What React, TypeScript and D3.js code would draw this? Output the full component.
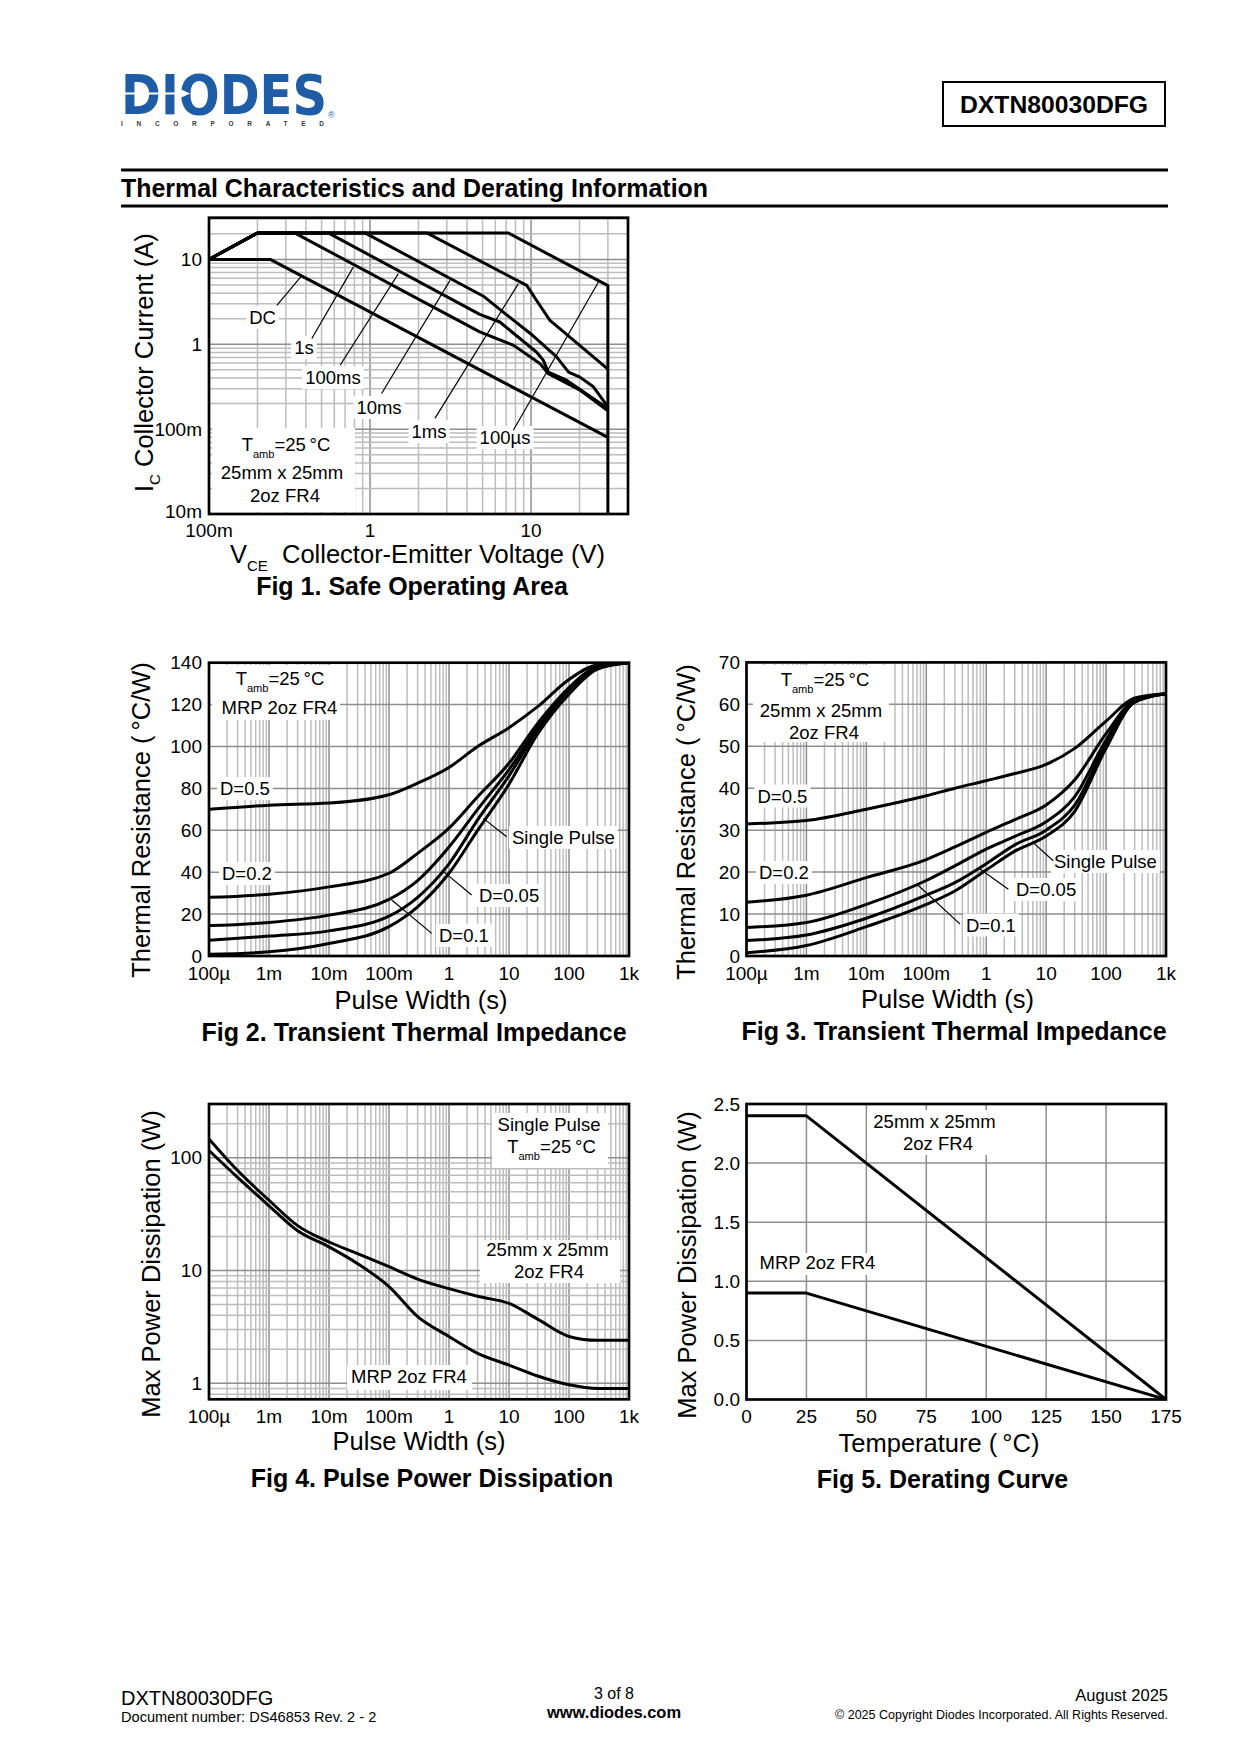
import React, { useEffect, useRef } from "react";
import * as d3 from "d3";

const FONT = "'Liberation Sans', Arial, Helvetica, sans-serif";
const BLUE = "#1f5ca6";

// Fig 1 - Safe Operating Area, points are [VCE (V), IC (A)]
const soaDC = [[0.1, 10], [0.24, 10], [30, 0.08]];
const soa1s = [[0.1, 10], [0.2, 20.5], [0.34, 20.5], [4.8, 1.4], [7.8, 0.97], [11.4, 0.59], [12.8, 0.45], [20, 0.29], [30, 0.164]];
const soa100ms = [[0.1, 10], [0.2, 20.5], [0.55, 20.5], [4.8, 2.25], [6.4, 1.83], [10.8, 0.81], [11.9, 0.65], [12.8, 0.47], [16.6, 0.377], [30, 0.175]];
const soa10ms = [[0.1, 10], [0.2, 20.5], [0.93, 20.5], [5.1, 3.65], [6.9, 2.3], [9.9, 1.34], [14.4, 0.71], [17.1, 0.47], [20.1, 0.41], [24.4, 0.315], [30, 0.183]];
const soa1ms = [[0.1, 10], [0.2, 20.5], [2.25, 20.5], [9.4, 4.94], [10.8, 3.3], [13.1, 1.91], [30, 0.51]];
const soa100us = [[0.1, 10], [0.2, 20.5], [7.2, 20.5], [30, 4.9], [30, 0.01]];

// leader lines from the labels to the curves, [VCE, IC] pairs
const soaLeaders = [
  [[0.264, 2.88], [0.378, 6.49]],
  [[0.435, 1.17], [0.787, 8.1]],
  [[0.652, 0.566], [1.5, 6.8]],
  [[1.18, 0.263], [3.14, 5.66]],
  [[2.53, 0.134], [8.34, 5.18]],
  [[7.76, 0.097], [26.2, 5.41]],
];

// pulse width (s), shared by figs 2-3
const pulseWidths = [1e-4, 1e-3, 1e-2, 0.1, 0.3, 1, 3, 10, 30, 100, 300, 1000];

// Fig 2 - transient thermal impedance, MRP 2oz FR4 (°C/W)
const zthMrpD05 = [70, 72, 73, 77, 82.5, 90, 100, 109, 119, 132, 139, 140];
const zthMrpD02 = [28, 29.5, 33, 39.5, 49, 61, 76, 92, 111, 128, 138, 140];
const zthMrpD01 = [14.5, 16, 19.5, 27, 36, 52, 70, 89, 109, 128, 138, 140];
const zthMrpD005 = [7.5, 9.5, 12, 19, 28, 44, 65, 86, 108, 127, 137.5, 140];
const zthMrpSingle = [0.8, 2, 6, 14, 23.5, 39.5, 60, 82, 106, 125, 137, 140];
const zthMrpLeaders = [
  [[9.16, 56.9], [3.73, 65.7]],
  [[2.39, 29.1], [0.755, 41]],
  [[0.515, 10.8], [0.111, 26.7]],
];

// Fig 3 - transient thermal impedance, 25mm x 25mm 2oz FR4 (°C/W)
const zth25D05 = [31.5, 32.3, 35, 38.2, 40, 41.8, 43.5, 45.7, 49.5, 56, 61.5, 62.5];
const zth25D02 = [12.8, 14.5, 18.7, 23, 26, 29.5, 32.5, 36, 42, 53, 61, 62.5];
const zth25D01 = [6.8, 8, 12.3, 18, 21.5, 25.5, 28.5, 32, 38, 51.5, 61, 62.5];
const zth25D005 = [3.7, 5, 9, 14.5, 17.5, 22, 26.5, 30, 36, 50.5, 60.5, 62.5];
const zth25Single = [0.8, 2.5, 7, 12.3, 15.5, 20.5, 25, 28.6, 34.5, 49.5, 60.5, 62.5];
const zth25Leaders = [
  [[13.1, 22.7], [5.9, 27.2]],
  [[2.34, 15.9], [0.757, 20.9]],
  [[0.366, 7.6], [0.07, 17.1]],
];

// Fig 4 - pulse power dissipation (W)
const pdmWidths = [1e-4, 3e-4, 1e-3, 3e-3, 1e-2, 3e-2, 0.1, 0.3, 1, 3, 10, 30, 100, 300, 1000];
const pdm25 = [147, 77, 42, 25, 17.9, 14.1, 10.8, 8.4, 6.9, 5.9, 5.1, 3.7, 2.6, 2.4, 2.4];
const pdmMrp = [116, 67, 37.5, 22.5, 16.2, 11.5, 7.2, 3.9, 2.6, 1.84, 1.45, 1.16, 0.97, 0.9, 0.9];

// Fig 5 - derating curve
const derTemp = [0, 25, 175];
const der25 = [2.4, 2.4, 0];
const derMrp = [0.9, 0.9, 0];

// tick values and labels
const soaXTicks = [0.1, 1, 10];
const soaXLabels = ["100m", "1", "10"];
const soaYTicks = [0.01, 0.1, 1, 10];
const soaYLabels = ["10m", "100m", "1", "10"];
const pulseTicks = [1e-4, 1e-3, 1e-2, 0.1, 1, 10, 100, 1000];
const pulseLabels = ["100µ", "1m", "10m", "100m", "1", "10", "100", "1k"];
const zthMrpTicks = [0, 20, 40, 60, 80, 100, 120, 140];
const zth25Ticks = [0, 10, 20, 30, 40, 50, 60, 70];
const pdmTicks = [1, 10, 100];
const tempTicks = [0, 25, 50, 75, 100, 125, 150, 175];
const deratingTicks = [0, 0.5, 1, 1.5, 2, 2.5];

const GRID_MAJOR = "#8e8e8e";
const GRID_MINOR = "#bdbdbd";

function logGrid(lo: number, hi: number) {
  const out: { v: number; major: boolean }[] = [];
  for (let e = Math.floor(Math.log10(lo)); e <= Math.ceil(Math.log10(hi)); e++) {
    for (let m = 1; m < 10; m++) {
      const v = m * Math.pow(10, e);
      if (v > lo * 1.001 && v < hi * 0.999) out.push({ v, major: m === 1 });
    }
  }
  return out;
}

function linGrid(vals: number[]) {
  return vals.map((v) => ({ v, major: true }));
}

function addText(g: any, s: string, x: number, y: number, size: number, anchor = "middle", weight = "normal") {
  return g
    .append("text")
    .attr("x", x)
    .attr("y", y)
    .attr("font-size", size)
    .attr("text-anchor", anchor)
    .attr("font-weight", weight)
    .attr("font-family", FONT)
    .attr("fill", "#000")
    .text(s);
}

function addTamb(g: any, x: number, y: number, size: number) {
  const t = g
    .append("text")
    .attr("x", x)
    .attr("y", y)
    .attr("font-size", size)
    .attr("text-anchor", "middle")
    .attr("font-family", FONT);
  t.append("tspan").text("T");
  t.append("tspan").attr("font-size", size * 0.6).attr("dy", size * 0.4).text("amb");
  t.append("tspan").attr("dy", -size * 0.4).text("=25\u2009°C");
}

function drawPlot(svg: any, p: any) {
  const [x0, x1] = p.x.range();
  const [y1, y0] = p.y.range();
  const g = svg.append("g");
  g.append("clipPath").attr("id", p.id).append("rect").attr("x", x0).attr("y", y0).attr("width", x1 - x0).attr("height", y1 - y0);

  const grid = g.append("g");
  const boxes = g.append("g");
  const curves = g.append("g").attr("clip-path", `url(#${p.id})`);
  const top = g.append("g");

  p.xGrid.forEach((d: any) =>
    grid.append("line").attr("x1", p.x(d.v)).attr("x2", p.x(d.v)).attr("y1", y0).attr("y2", y1)
      .attr("stroke", d.major ? GRID_MAJOR : GRID_MINOR).attr("stroke-width", 1.5)
  );
  p.yGrid.forEach((d: any) =>
    grid.append("line").attr("x1", x0).attr("x2", x1).attr("y1", p.y(d.v)).attr("y2", p.y(d.v))
      .attr("stroke", d.major ? GRID_MAJOR : GRID_MINOR).attr("stroke-width", 1.5)
  );

  (p.boxes || []).forEach((b: number[]) =>
    boxes.append("rect").attr("x", b[0]).attr("y", b[1]).attr("width", b[2] - b[0]).attr("height", b[3] - b[1]).attr("fill", "#fff")
  );

  const line = d3.line<any>().x((d) => p.x(d[0])).y((d) => p.y(d[1])).curve(p.curve || d3.curveLinear);
  p.series.forEach((s: any) =>
    curves.append("path").attr("d", line(s)).attr("fill", "none").attr("stroke", "#000")
      .attr("stroke-width", 3).attr("stroke-linejoin", "round")
  );

  (p.leaders || []).forEach((l: any) =>
    top.append("line").attr("x1", p.x(l[0][0])).attr("y1", p.y(l[0][1])).attr("x2", p.x(l[1][0])).attr("y2", p.y(l[1][1]))
      .attr("stroke", "#000").attr("stroke-width", 1.2)
  );

  top.append("rect").attr("x", x0).attr("y", y0).attr("width", x1 - x0).attr("height", y1 - y0)
    .attr("fill", "none").attr("stroke", "#000").attr("stroke-width", 2.7);

  // labels with a white background that hides the grid
  (p.labels || []).forEach((l: any) => {
    const t = addText(top, l.s, l.x, l.y, 18.5, l.anchor || "start");
    const bb = (t.node() as SVGTextElement).getBBox();
    boxes.append("rect").attr("x", bb.x - 3).attr("y", bb.y - 1).attr("width", bb.width + 6).attr("height", bb.height + 2).attr("fill", "#fff");
  });

  // tick labels
  p.xTicks.forEach((v: number, i: number) => addText(top, p.xLabels[i], p.x(v), p.xBase, 19));
  p.yTicks.forEach((v: number, i: number) =>
    addText(top, p.yLabels[i], p.yRight, Math.min(p.y(v) + 6.5, y1 + (p.yBottomLift ?? 6.5)), 19, "end")
  );
  return top;
}

function pairs(xs: number[], ys: number[]) {
  return xs.map((x, i) => [x, ys[i]]);
}

const App: React.FC = () => {
  const ref = useRef<SVGSVGElement>(null);

  useEffect(() => {
    if (!ref.current) return;
    const svg = d3.select(ref.current);
    svg.selectAll("*").remove();
    svg.append("rect").attr("width", 1240).attr("height", 1754).attr("fill", "#fff");

    // ---------- header ----------
    svg.append("text").attr("x", 121).attr("y", 113.5).attr("font-family", "'DejaVu Sans', sans-serif")
      .attr("font-weight", "bold").attr("font-size", 56).attr("fill", BLUE)
      .attr("textLength", 206).attr("lengthAdjust", "spacingAndGlyphs").text("DIODES");
    svg.append("line").attr("x1", 121).attr("x2", 182).attr("y1", 93.5).attr("y2", 93.5).attr("stroke", "#fff").attr("stroke-width", 2);
    svg.append("path").attr("d", "M178,88 L190,93.5 L178,99 Z").attr("fill", "#fff");
    svg.append("text").attr("x", 121).attr("y", 125.5).attr("font-family", FONT).attr("font-weight", "bold")
      .attr("font-size", 6.5).attr("fill", "#3a3a3a").attr("textLength", 203).attr("lengthAdjust", "spacing").text("INCORPORATED");
    svg.append("text").attr("x", 328).attr("y", 118).attr("font-family", FONT).attr("font-size", 9).attr("fill", BLUE).text("®");

    svg.append("rect").attr("x", 943).attr("y", 82).attr("width", 222).attr("height", 44).attr("fill", "none").attr("stroke", "#000").attr("stroke-width", 2);
    addText(svg, "DXTN80030DFG", 1054, 112.5, 24, "middle", "bold").attr("textLength", 188).attr("lengthAdjust", "spacingAndGlyphs");

    svg.append("line").attr("x1", 121).attr("x2", 1168).attr("y1", 170).attr("y2", 170).attr("stroke", "#000").attr("stroke-width", 3);
    addText(svg, "Thermal Characteristics and Derating Information", 121, 197, 25, "start", "bold")
      .attr("textLength", 587).attr("lengthAdjust", "spacingAndGlyphs");
    svg.append("line").attr("x1", 121).attr("x2", 1168).attr("y1", 206).attr("y2", 206).attr("stroke", "#000").attr("stroke-width", 3);

    // ---------- Fig 1 ----------
    const x1s = d3.scaleLog().domain([0.1, 40]).range([209, 628]);
    const y1s = d3.scaleLog().domain([0.01, 31]).range([514, 217.7]);
    const t1 = drawPlot(svg, {
      id: "clip1", x: x1s, y: y1s,
      xGrid: logGrid(0.1, 40), yGrid: logGrid(0.01, 31),
      boxes: [[212, 428, 355, 512]],
      series: [soaDC, soa1s, soa100ms, soa10ms, soa1ms, soa100us],
      leaders: soaLeaders,
      labels: [
        { s: "DC", x: 262.5, y: 324, anchor: "middle" },
        { s: "1s", x: 304, y: 354, anchor: "middle" },
        { s: "100ms", x: 333, y: 384, anchor: "middle" },
        { s: "10ms", x: 379, y: 414, anchor: "middle" },
        { s: "1ms", x: 429, y: 438, anchor: "middle" },
        { s: "100µs", x: 505, y: 444, anchor: "middle" },
      ],
      xTicks: soaXTicks, xLabels: soaXLabels, xBase: 536.5,
      yTicks: soaYTicks, yLabels: soaYLabels, yRight: 202, yBottomLift: 4,
    });
    addTamb(t1, 286, 450.5, 18.5);
    addText(t1, "25mm x 25mm", 282, 479, 18.5);
    addText(t1, "2oz FR4", 285, 501.5, 18.5);

    const xt1 = svg.append("text").attr("x", 230).attr("y", 563).attr("font-family", FONT).attr("font-size", 25.5);
    xt1.append("tspan").text("V");
    xt1.append("tspan").attr("font-size", 15).attr("dy", 8).text("CE");
    xt1.append("tspan").attr("x", 282).attr("dy", -8).text("Collector-Emitter Voltage (V)");
    const yt1 = svg.append("text").attr("transform", "translate(153,492) rotate(-90)").attr("font-family", FONT).attr("font-size", 25.5);
    yt1.append("tspan").text("I");
    yt1.append("tspan").attr("font-size", 15).attr("dy", 7).text("C");
    yt1.append("tspan").attr("dy", -7).text(" Collector Current (A)");
    addText(svg, "Fig 1. Safe Operating Area", 412, 595, 25, "middle", "bold");

    // ---------- Fig 2 ----------
    const x2s = d3.scaleLog().domain([1e-4, 1e3]).range([209, 629]);
    const y2s = d3.scaleLinear().domain([0, 140]).range([956, 662.7]);
    const t2 = drawPlot(svg, {
      id: "clip2", x: x2s, y: y2s,
      xGrid: logGrid(1e-4, 1e3), yGrid: linGrid([20, 40, 60, 80, 100, 120]),
      boxes: [[212, 665, 340, 720]],
      series: [zthMrpD05, zthMrpD02, zthMrpD01, zthMrpD005, zthMrpSingle].map((s) => pairs(pulseWidths, s)),
      curve: d3.curveMonotoneX,
      leaders: zthMrpLeaders,
      labels: [
        { s: "D=0.5", x: 220, y: 795 },
        { s: "D=0.2", x: 222, y: 880 },
        { s: "Single Pulse", x: 512, y: 844 },
        { s: "D=0.05", x: 479, y: 902 },
        { s: "D=0.1", x: 439, y: 942 },
      ],
      xTicks: pulseTicks, xLabels: pulseLabels, xBase: 980,
      yTicks: zthMrpTicks, yLabels: zthMrpTicks.map(String), yRight: 202,
    });
    addTamb(t2, 280, 685, 18.5);
    addText(t2, "MRP 2oz FR4", 279.5, 714, 18.5);
    addText(svg, "Pulse Width (s)", 421, 1009, 25.5);
    addText(svg, "Thermal Resistance (\u2009°C/W)", 0, 0, 25.5).attr("transform", "translate(150,820) rotate(-90)");
    addText(svg, "Fig 2. Transient Thermal Impedance", 414, 1041, 25, "middle", "bold");

    // ---------- Fig 3 ----------
    const x3s = d3.scaleLog().domain([1e-4, 1e3]).range([746.5, 1166]);
    const y3s = d3.scaleLinear().domain([0, 70]).range([956, 662.4]);
    const t3 = drawPlot(svg, {
      id: "clip3", x: x3s, y: y3s,
      xGrid: logGrid(1e-4, 1e3), yGrid: linGrid([10, 20, 30, 40, 50, 60]),
      boxes: [[753, 665, 889, 742]],
      series: [zth25D05, zth25D02, zth25D01, zth25D005, zth25Single].map((s) => pairs(pulseWidths, s)),
      curve: d3.curveMonotoneX,
      leaders: zth25Leaders,
      labels: [
        { s: "D=0.5", x: 757.5, y: 802.5 },
        { s: "D=0.2", x: 759, y: 879 },
        { s: "Single Pulse", x: 1054, y: 868 },
        { s: "D=0.05", x: 1016, y: 896 },
        { s: "D=0.1", x: 966, y: 931.5 },
      ],
      xTicks: pulseTicks, xLabels: pulseLabels, xBase: 980,
      yTicks: zth25Ticks, yLabels: zth25Ticks.map(String), yRight: 740,
    });
    addTamb(t3, 825, 685.5, 18.5);
    addText(t3, "25mm x 25mm", 821, 716.5, 18.5);
    addText(t3, "2oz FR4", 824, 739, 18.5);
    addText(svg, "Pulse Width (s)", 947.5, 1008, 25.5);
    addText(svg, "Thermal Resistance (\u2009°C/W)", 0, 0, 25.5).attr("transform", "translate(695,822) rotate(-90)");
    addText(svg, "Fig 3. Transient Thermal Impedance", 954, 1040, 25, "middle", "bold");

    // ---------- Fig 4 ----------
    const x4s = d3.scaleLog().domain([1e-4, 1e3]).range([209, 629]);
    const y4s = d3.scaleLog().domain([0.72, 300]).range([1399.3, 1104]);
    const t4 = drawPlot(svg, {
      id: "clip4", x: x4s, y: y4s,
      xGrid: logGrid(1e-4, 1e3), yGrid: logGrid(0.72, 300),
      boxes: [[492, 1113, 608, 1168], [480, 1240, 620, 1283], [347, 1365, 472, 1390]],
      series: [pdm25, pdmMrp].map((s) => pairs(pdmWidths, s)),
      curve: d3.curveMonotoneX,
      xTicks: pulseTicks, xLabels: pulseLabels, xBase: 1423,
      yTicks: pdmTicks, yLabels: pdmTicks.map(String), yRight: 202,
    });
    addText(t4, "Single Pulse", 549, 1130.5, 18.5);
    addTamb(t4, 551.5, 1153, 18.5);
    addText(t4, "25mm x 25mm", 547.5, 1255.5, 18.5);
    addText(t4, "2oz FR4", 549, 1278, 18.5);
    addText(t4, "MRP 2oz FR4", 409, 1383, 18.5);
    addText(svg, "Pulse Width (s)", 419, 1450, 25.5);
    addText(svg, "Max Power Dissipation (W)", 0, 0, 25.5).attr("transform", "translate(160,1264) rotate(-90)");
    addText(svg, "Fig 4. Pulse Power Dissipation", 432, 1487, 25, "middle", "bold");

    // ---------- Fig 5 ----------
    const x5s = d3.scaleLinear().domain([0, 175]).range([746.5, 1166]);
    const y5s = d3.scaleLinear().domain([0, 2.5]).range([1399.5, 1104]);
    const t5 = drawPlot(svg, {
      id: "clip5", x: x5s, y: y5s,
      xGrid: linGrid([25, 50, 75, 100, 125, 150]), yGrid: linGrid([0.5, 1, 1.5, 2]),
      boxes: [[867, 1110, 1001, 1155], [755, 1253, 879, 1275]],
      series: [pairs(derTemp, der25), pairs(derTemp, derMrp)],
      xTicks: tempTicks, xLabels: tempTicks.map(String), xBase: 1423,
      yTicks: deratingTicks, yLabels: deratingTicks.map((d) => d.toFixed(1)), yRight: 740,
    });
    addText(t5, "25mm x 25mm", 934.5, 1127.5, 18.5);
    addText(t5, "2oz FR4", 938, 1150, 18.5);
    addText(t5, "MRP 2oz FR4", 817.5, 1269, 18.5);
    addText(svg, "Temperature (\u2009°C)", 939, 1451.5, 25.5);
    addText(svg, "Max Power Dissipation (W)", 0, 0, 25.5).attr("transform", "translate(696,1265) rotate(-90)");
    addText(svg, "Fig 5. Derating Curve", 942.5, 1488, 25, "middle", "bold");

    // ---------- footer ----------
    addText(svg, "DXTN80030DFG", 121, 1705, 20, "start");
    addText(svg, "Document number: DS46853 Rev. 2 - 2", 121, 1721.5, 14.6, "start");
    addText(svg, "3 of 8", 614, 1699, 16);
    addText(svg, "www.diodes.com", 614, 1718, 16.5, "middle", "bold");
    addText(svg, "August 2025", 1168, 1701, 16.5, "end");
    addText(svg, "© 2025 Copyright Diodes Incorporated. All Rights Reserved.", 1168, 1719, 12.5, "end");
  }, []);

  return (
    <svg
      ref={ref}
      width={1240}
      height={1754}
      style={{ position: "absolute", left: 0, top: 0, display: "block" }}
    />
  );
};

export default App;
